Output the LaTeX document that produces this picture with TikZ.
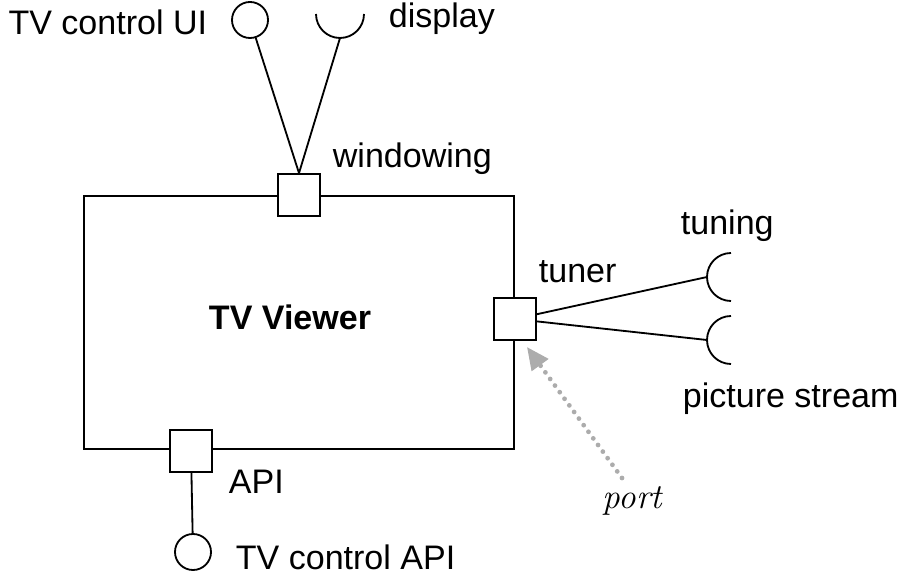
\documentclass[tikz,border=0pt]{standalone}
\usepackage{fontspec}
\setmainfont{Liberation Sans}
\newfontfamily\handfont{Latin Modern Roman}
\usetikzlibrary{arrows.meta}
\begin{document}
\begin{tikzpicture}[x=0.025cm, y=-0.025cm, line width=1.3pt, >={Triangle[length=16pt,width=14pt]}]
	\tikzset{every node/.style={font=\fontsize{24.2}{29}\selectfont, inner sep=0pt}}
	\tikzset{portbox/.style={draw, fill=white, minimum size=1.05cm}}
	\tikzset{iface/.style={draw, circle, minimum size=0.9cm}}
	\tikzset{lbl/.style={anchor=base west}}
	\useasboundingbox (0,0) rectangle (906,582);
	% --- component ---
	\draw (84,196) rectangle (514,449);
	\node[font=\bfseries\fontsize{24.2}{29}\selectfont, anchor=base] (viewer) at (290,330) {TV Viewer};
	% --- ports ---
	\node[portbox] (win) at (299,195) {};
	\node[portbox] (tun) at (515,319) {};
	\node[portbox] (api) at (191,451) {};
	% --- provided interfaces (balls) ---
	\node[iface] (ui) at (250,20) {};
	\node[iface] (capi) at (193,552) {};
	% --- required interfaces (sockets) ---
	\coordinate (disp) at (340,38);
	\coordinate (tuning) at (707,277);
	\coordinate (pstream) at (707,340);
	\draw (316,14) arc[start angle=180, end angle=0, radius=24];
	\draw (731,253) arc[start angle=270, end angle=90, radius=24];
	\draw (731,316) arc[start angle=270, end angle=90, radius=24];
	% --- wiring ---
	\draw (ui) -- (win.north);
	\draw (disp) -- (win.north);
	\draw (tun) -- (tuning);
	\draw (tun) -- (pstream);
	\draw (api) -- (capi);
	% --- labels ---
	\node[anchor=base east] (uilbl) at (208,35) {TV control UI};
	\node[lbl] (displbl) at (388,28) {display};
	\node[lbl] (winlbl) at (332,168) {windowing};
	\node[lbl] (tunlbl) at (538,283) {tuner};
	\node[lbl] (tuninglbl) at (680,235) {tuning};
	\node[lbl] (pslbl) at (682,408) {picture stream};
	\node[lbl] (apilbl) at (228,493) {API};
	\node[lbl] (capilbl) at (235,569) {TV control API};
	\node[lbl, font=\handfont\itshape\fontsize{25}{30}\selectfont] (portlbl) at (602,508) {port};
	% --- note arrow ---
	\coordinate (porttail) at (622,478);
	\draw[->, gray!65, line width=3.4pt, dash pattern=on 0pt off 5.8pt, line cap=round] (porttail) -- ([shift={(-10,6)}]tun.south east);
\end{tikzpicture}
\end{document}
